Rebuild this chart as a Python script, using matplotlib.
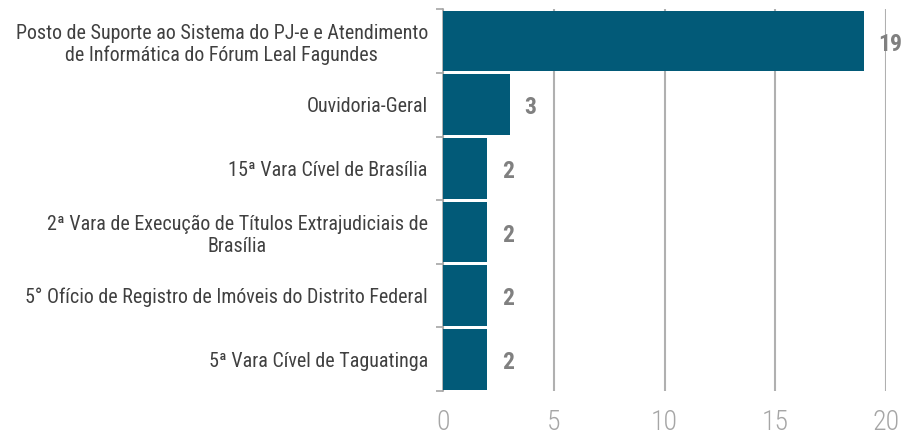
import numpy as np
from matplotlib import pyplot as plt
from matplotlib import font_manager

categories = [
    "Posto de Suporte ao Sistema do PJ-e e Atendimento\nde Informática do Fórum Leal Fagundes",
    "Ouvidoria-Geral",
    "15ª Vara Cível de Brasília",
    "2ª Vara de Execução de Títulos Extrajudiciais de\nBrasília",
    "5° Ofício de Registro de Imóveis do Distrito Federal",
    "5ª Vara Cível de Taguatinga",
]
values = [19, 3, 2, 2, 2, 2]
xticks = [0, 5, 10, 15, 20]

names = {f.name for f in font_manager.fontManager.ttflist}
family = "Liberation Sans"
for cand in ["Liberation Sans Narrow", "Arial Narrow", "Roboto Condensed"]:
    if cand in names:
        family = cand
        break
plt.rcParams["font.family"] = [family, "DejaVu Sans"]

fig = plt.figure(figsize=(9.08, 4.38), dpi=100)
ax = fig.add_axes([0.488, 0.107, 0.488, 0.872])

y = np.arange(len(categories))
ax.barh(y, values, height=0.95, color="#025a78", zorder=3)
ax.set_ylim(len(categories) - 0.5, -0.5)
ax.set_xlim(0, 20)

for yi, v in zip(y, values):
    ax.text(v + 0.65, yi + 0.05, str(v), va="center", ha="left",
            fontsize=17, fontweight="bold", color="#808080", zorder=4)

ax.set_yticks(y)
ax.set_yticklabels(categories, fontsize=14.4, color="#404040",
                   ha="right", multialignment="center")
ax.tick_params(axis="y", which="major", length=0, pad=11)
ax.set_yticks(np.arange(-0.5, len(categories), 1), minor=True)
ax.tick_params(axis="y", which="minor", length=5, color="#a6a6a6", width=1.2)

ax.set_xticks(xticks)
ax.tick_params(axis="x", length=0, labelsize=20, labelcolor="#a6a6a6", pad=13)
for lbl in ax.get_xticklabels():
    lbl.set_fontweight("light")
ax.grid(axis="x", color="#b0b0b0", linewidth=1.5, zorder=0)

for s in ["top", "right", "bottom"]:
    ax.spines[s].set_visible(False)
ax.spines["left"].set_color("#a6a6a6")
ax.spines["left"].set_linewidth(1.2)

fig.savefig("out.png", dpi=100)
